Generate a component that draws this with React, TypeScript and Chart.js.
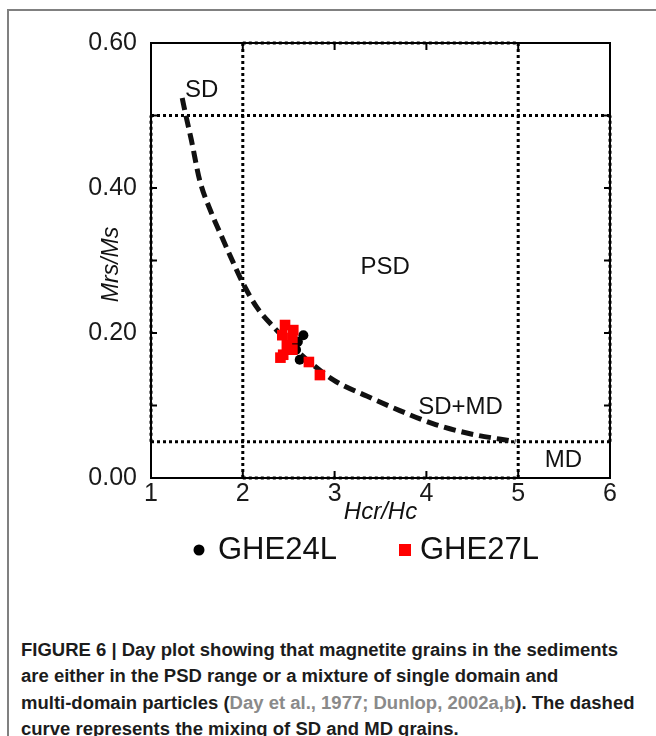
import React, { useEffect, useRef } from "react";
import { Chart, registerables } from "chart.js";

Chart.register(...registerables);

const FONT = '"Liberation Sans", Arial, Helvetica, sans-serif';

// Axis ranges and ticks
const xRange = [1, 6];
const yRange = [0, 0.6];
const xTickStep = 1;
const yTickStep = 0.1;
const yLabelledTicks = [0, 0.2, 0.4, 0.6];

// Sample GHE24L (Hcr/Hc, Mrs/Ms)
const ghe24lHcr = [2.66, 2.6, 2.58, 2.55, 2.62];
const ghe24lMrs = [0.197, 0.188, 0.177, 0.186, 0.163];

// Sample GHE27L (Hcr/Hc, Mrs/Ms)
const ghe27lHcr = [2.46, 2.55, 2.43, 2.54, 2.48, 2.54, 2.44, 2.41, 2.72, 2.84];
const ghe27lMrs = [0.211, 0.204, 0.197, 0.193, 0.183, 0.177, 0.17, 0.166, 0.16, 0.142];

// SD–MD mixing curve
const mixHcr = [1.34, 1.38, 1.44, 1.53, 1.66, 1.77, 1.9, 2.0, 2.15, 2.33, 2.62, 2.99, 3.35, 3.71, 4.07, 4.44, 4.97];
const mixMrs = [0.524, 0.5, 0.466, 0.411, 0.365, 0.333, 0.296, 0.269, 0.236, 0.209, 0.172, 0.135, 0.113, 0.093, 0.075, 0.062, 0.05];

// Domain-state boundaries [x1, y1, x2, y2]
const boundaries = [
  [1, 0.5, 6, 0.5],
  [1, 0.05, 6, 0.05],
  [2, 0, 2, 0.6],
  [5, 0, 5, 0.6],
  [2, 0.6, 5, 0.6],
  [2, 0, 5, 0],
  [1, 0.05, 1, 0.5],
  [6, 0.05, 6, 0.5],
];

// Region names and their anchor (x, y, alignment)
const regionNames = ["SD", "PSD", "SD+MD", "MD"];
const regionX = [1.37, 3.55, 3.91, 5.29];
const regionY = [0.535, 0.291, 0.098, 0.025];
const regionAlign = ["left", "center", "left", "left"];

const seriesNames = ["GHE24L", "GHE27L"];
const seriesColors = ["#000000", "#ff0000"];

const xTitle = "Hcr/Hc";
const yTitle = "Mrs/Ms";

const captionLines = [
  "FIGURE 6 | Day plot showing that magnetite grains in the sediments",
  "are either in the PSD range or a mixture of single domain and",
  "multi-domain particles (",
  "Day et al., 1977; Dunlop, 2002a,b",
  "). The dashed",
  "curve represents the mixing of SD and MD grains.",
];

function boundaryData() {
  const pts: any[] = [];
  boundaries.forEach(([x1, y1, x2, y2]) => {
    pts.push({ x: x1, y: y1 }, { x: x2, y: y2 }, { x: x2, y: null });
  });
  return pts;
}

const dayPlotDecor = {
  id: "dayPlotDecor",
  beforeDatasetsDraw(chart: any) {
    const { ctx, chartArea: a, scales } = chart;
    const xs = scales.x;
    const ys = scales.y;
    ctx.save();
    ctx.strokeStyle = "#000";
    ctx.lineWidth = 2;
    ctx.strokeRect(a.left, a.top, a.right - a.left, a.bottom - a.top);
    ctx.beginPath();
    for (let v = xRange[0]; v <= xRange[1] + 1e-9; v += xTickStep) {
      const px = xs.getPixelForValue(v);
      ctx.moveTo(px, a.bottom);
      ctx.lineTo(px, a.bottom - 7);
      ctx.moveTo(px, a.top);
      ctx.lineTo(px, a.top + 7);
    }
    for (let i = 0; i <= Math.round((yRange[1] - yRange[0]) / yTickStep); i++) {
      const py = ys.getPixelForValue(yRange[0] + i * yTickStep);
      ctx.moveTo(a.left, py);
      ctx.lineTo(a.left + 6, py);
      ctx.moveTo(a.right, py);
      ctx.lineTo(a.right - 6, py);
    }
    ctx.stroke();
    ctx.restore();
  },
  afterDraw(chart: any) {
    const { ctx, chartArea: a, scales } = chart;
    const xs = scales.x;
    const ys = scales.y;
    ctx.save();
    ctx.fillStyle = "#111";
    ctx.textBaseline = "middle";

    // region names
    ctx.font = `24px ${FONT}`;
    regionNames.forEach((name, i) => {
      ctx.textAlign = regionAlign[i];
      ctx.fillText(name, xs.getPixelForValue(regionX[i]), ys.getPixelForValue(regionY[i]));
    });

    // axis titles
    ctx.font = `italic 24px ${FONT}`;
    ctx.textAlign = "center";
    ctx.fillText(xTitle, (a.left + a.right) / 2, a.bottom + 34);
    ctx.save();
    ctx.translate(a.left - 39, (a.top + a.bottom) / 2 + 4);
    ctx.rotate(-Math.PI / 2);
    ctx.font = `italic 23px ${FONT}`;
    ctx.fillText(yTitle, 0, 0);
    ctx.restore();

    // legend
    const ly = a.bottom + 72;
    ctx.font = `31px ${FONT}`;
    ctx.textAlign = "left";
    ctx.fillStyle = seriesColors[0];
    ctx.beginPath();
    ctx.arc(199, ly, 5.5, 0, Math.PI * 2);
    ctx.fill();
    ctx.fillStyle = "#111";
    ctx.fillText(seriesNames[0], 218, ly);
    ctx.fillStyle = seriesColors[1];
    ctx.fillRect(399, ly - 6, 12, 12);
    ctx.fillStyle = "#111";
    ctx.fillText(seriesNames[1], 420, ly);
    ctx.restore();
  },
};

function DayPlot() {
  const ref = useRef<HTMLCanvasElement | null>(null);
  useEffect(() => {
    if (!ref.current) return;
    const chart = new Chart(ref.current, {
      type: "scatter",
      data: {
        datasets: [
          {
            label: seriesNames[1],
            data: ghe27lHcr.map((x, i) => ({ x, y: ghe27lMrs[i] })),
            pointStyle: "rect",
            pointRadius: 7.5,
            backgroundColor: seriesColors[1],
            borderWidth: 0,
            order: 0,
          },
          {
            label: seriesNames[0],
            data: ghe24lHcr.map((x, i) => ({ x, y: ghe24lMrs[i] })),
            pointStyle: "circle",
            pointRadius: 5,
            backgroundColor: seriesColors[0],
            borderWidth: 0,
            order: 1,
          },
          {
            label: "mixing",
            data: mixHcr.map((x, i) => ({ x, y: mixMrs[i] })),
            showLine: true,
            borderColor: "#111",
            borderWidth: 5,
            borderDash: [12, 6],
            borderCapStyle: "butt",
            cubicInterpolationMode: "monotone",
            pointRadius: 0,
            clip: 6,
            order: 2,
          },
          {
            label: "bounds",
            data: boundaryData(),
            showLine: true,
            spanGaps: false,
            borderColor: "#000",
            borderWidth: 3,
            borderDash: [3, 3],
            borderCapStyle: "butt",
            pointRadius: 0,
            clip: 6,
            order: 3,
          },
        ],
      },
      options: {
        responsive: false,
        animation: false,
        events: [],
        layout: { padding: { left: 71, top: 43, right: 46, bottom: 82 } },
        plugins: { legend: { display: false }, tooltip: { enabled: false } },
        scales: {
          x: {
            type: "linear",
            min: xRange[0],
            max: xRange[1],
            grid: { display: false, drawTicks: false },
            border: { display: false },
            ticks: {
              stepSize: xTickStep,
              autoSkip: false,
              maxRotation: 0,
              padding: 1,
              color: "#1a1a1a",
              font: { family: FONT, size: 25 },
            },
            afterFit: (s: any) => {
              s.height = 40;
            },
          },
          y: {
            type: "linear",
            min: yRange[0],
            max: yRange[1],
            grid: { display: false, drawTicks: false },
            border: { display: false },
            ticks: {
              stepSize: yTickStep,
              autoSkip: false,
              padding: 14,
              color: "#1a1a1a",
              font: { family: FONT, size: 25 },
              callback: (v: any) =>
                yLabelledTicks.some((t) => Math.abs(t - Number(v)) < 1e-6) ? Number(v).toFixed(2) : "",
            },
            afterFit: (s: any) => {
              s.width = 80;
            },
          },
        },
      },
      plugins: [dayPlotDecor],
    } as any);
    return () => chart.destroy();
  }, []);
  return <canvas ref={ref} width={656} height={600} style={{ display: "block" }} />;
}

// Horizontal squeeze so the bold caption sets like a condensed face
function captionSqueeze(): number {
  const c = document.createElement("canvas").getContext("2d");
  if (!c) return 0.9;
  c.font = `bold 18px ${FONT}`;
  const w = c.measureText(captionLines[0]).width;
  return w > 0 ? 597 / w : 0.9;
}

export default function App() {
  const squeeze = captionSqueeze();
  const line: React.CSSProperties = { whiteSpace: "nowrap", height: 26.3, lineHeight: "26.3px" };
  return (
    <div style={{ position: "fixed", left: 0, top: 0, width: 656, height: 736, background: "#fff", overflow: "hidden" }}>
      <div
        style={{
          position: "absolute",
          left: 7,
          top: 9,
          width: 700,
          height: 800,
          borderLeft: "2px solid #808080",
          borderTop: "2px solid #808080",
        }}
      />
      <div style={{ position: "absolute", left: 0, top: 0 }}>
        <DayPlot />
      </div>
      <div
        style={{
          position: "absolute",
          left: 21,
          top: 637,
          fontFamily: FONT,
          fontWeight: 700,
          fontSize: 18,
          color: "#1c1c1c",
          transform: `scaleX(${squeeze})`,
          transformOrigin: "0 0",
        }}
      >
        <div style={line}>{captionLines[0]}</div>
        <div style={line}>{captionLines[1]}</div>
        <div style={line}>
          {captionLines[2]}
          <span style={{ color: "#8a8a8a" }}>{captionLines[3]}</span>
          {captionLines[4]}
        </div>
        <div style={line}>{captionLines[5]}</div>
      </div>
    </div>
  );
}
